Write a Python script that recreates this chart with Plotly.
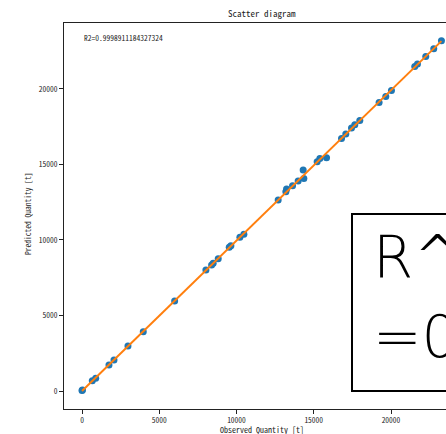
import numpy as np
import plotly.graph_objects as go

observed = [0, 30, 666, 886, 1746, 2070, 2975, 3965, 5996, 8020, 8390, 8490, 8816,
            9530, 9637, 10219, 10478, 12697, 13195, 13240, 13628, 13990, 14359, 14315,
            15220, 15394, 15827, 16797, 17075, 17444, 17657, 17981, 19230, 19663, 20030,
            21538, 21713, 22250, 22767, 23265]
predicted = [30, 60, 682, 840, 1721, 2052, 2979, 3926, 5958, 8010, 8341, 8453, 8758,
             9513, 9619, 10175, 10373, 12644, 13194, 13372, 13591, 13902, 14079, 14630,
             15180, 15400, 15445, 16728, 17013, 17411, 17630, 17920, 19112, 19509, 19906,
             21495, 21647, 22157, 22660, 23190]
r2_text = "R2=0.9998911184327324"
big_line1 = "R^2"
big_line2 = "=0.9998911184327324"
x_ticks = [0, 5000, 10000, 15000, 20000]
y_ticks = [0, 5000, 10000, 15000, 20000]

W, H = 446, 434
ML, MR, MT, MB = 64, 0, 23, 25
PW, PH = W - ML - MR, H - MT - MB


def px_x(p):
    return (p - ML) / PW


def px_y(p):
    return (H - MB - p) / PH


a, b = np.polyfit(observed, predicted, 1)
lx = [min(observed), max(observed)]
ly = [a * v + b for v in lx]

small_font = dict(family="Noto Sans Mono CJK JP, DejaVu Sans Mono, monospace", size=7.5, color="#222")

fig = go.Figure()
fig.add_trace(go.Scatter(x=observed, y=predicted, mode="markers",
                         marker=dict(color="#1f77b4", size=7, line=dict(width=0)),
                         showlegend=False))
fig.add_trace(go.Scatter(x=lx, y=ly, mode="lines",
                         line=dict(color="#ff7f0e", width=2), showlegend=False))

axis_common = dict(showgrid=False, zeroline=False, showline=True, linecolor="#222",
                   linewidth=1, ticks="outside", ticklen=4, tickcolor="#222",
                   tickfont=small_font)
fig.update_xaxes(range=[-1165, 23560], tickvals=x_ticks, ticktext=[str(v) for v in x_ticks],
                 mirror=True, **axis_common)
fig.update_yaxes(range=[-1192, 24370], tickvals=y_ticks, ticktext=[str(v) for v in y_ticks],
                 mirror=False, **axis_common)

fig.add_shape(type="rect", xref="paper", yref="paper",
              x0=px_x(352), x1=px_x(470), y0=px_y(391), y1=px_y(214),
              line=dict(color="black", width=2), fillcolor="white", layer="above")

big_font = dict(family="DejaVu Sans", size=58, color="black", weight=200)
fig.add_annotation(xref="paper", yref="paper", x=px_x(371), y=px_y(257), xanchor="left",
                   yanchor="middle", text=big_line1, showarrow=False, font=big_font)
fig.add_annotation(xref="paper", yref="paper", x=px_x(371), y=px_y(337), xanchor="left",
                   yanchor="middle", text=big_line2, showarrow=False, font=big_font)

fig.add_annotation(xref="paper", yref="paper", x=px_x(82), y=px_y(37), xanchor="left",
                   yanchor="middle", text=r2_text, showarrow=False, font=small_font)
fig.add_annotation(xref="paper", yref="paper", x=px_x(262), y=px_y(14), xanchor="center",
                   yanchor="middle", text="Scatter diagram", showarrow=False,
                   font=dict(small_font, size=9))
fig.add_annotation(xref="paper", yref="paper", x=px_x(262), y=px_y(429), xanchor="center",
                   yanchor="middle", text="Observed Quantity [t]", showarrow=False,
                   font=dict(small_font, size=8))
fig.add_annotation(xref="paper", yref="paper", x=px_x(27), y=px_y(214), xanchor="center",
                   yanchor="middle", text="Predicted Quantity [t]", showarrow=False,
                   textangle=-90, font=dict(small_font, size=7.5))

fig.update_layout(width=W, height=H, margin=dict(l=ML, r=MR, t=MT, b=MB),
                  paper_bgcolor="white", plot_bgcolor="white")
fig.write_html("out.html")
